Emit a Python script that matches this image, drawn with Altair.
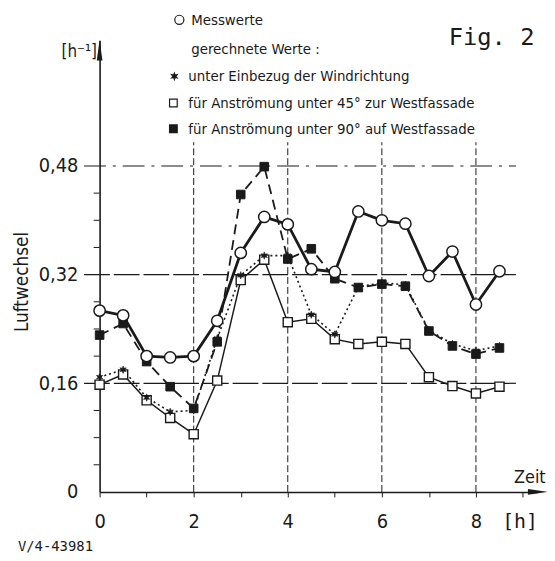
import math
import altair as alt
import pandas as pd

# ---------------- data ----------------
hours = [0, 0.5, 1, 1.5, 2, 2.5, 3, 3.5, 4, 4.5, 5, 5.5, 6, 6.5, 7, 7.5, 8, 8.5]
messwerte = [0.267, 0.260, 0.200, 0.198, 0.200, 0.252, 0.352, 0.405, 0.394,
             0.328, 0.324, 0.413, 0.400, 0.395, 0.318, 0.354, 0.276, 0.325]
windrichtung = [0.169, 0.180, 0.139, 0.118, 0.120, 0.226, 0.319, 0.348, 0.348,
                0.261, 0.232, 0.302, 0.308, 0.305, 0.238, 0.218, 0.208, 0.215]
west45 = [0.158, 0.173, 0.135, 0.109, 0.085, 0.164, 0.312, 0.342, 0.250,
          0.255, 0.225, 0.218, 0.221, 0.218, 0.169, 0.156, 0.145, 0.155]
west90 = [0.231, 0.248, 0.192, 0.155, 0.123, 0.221, 0.438, 0.479, 0.343,
          0.358, 0.314, 0.301, 0.306, 0.303, 0.237, 0.215, 0.203, 0.212]

x_tick_values = [0, 0.5, 1, 1.5, 2, 2.5, 3, 3.5, 4, 4.5, 5, 5.5, 6, 6.5, 7, 7.5, 8, 8.5, 9]
x_grid = [2, 4, 6, 8]
y_tick_values = [0, 0.16, 0.32, 0.48]
y_minor = [0.04, 0.08, 0.12, 0.20, 0.24, 0.28, 0.36, 0.40, 0.44]
y_grid_dashed = [0.16, 0.32]
y_grid_dashdot = [0.48]

legend_lines = [
    "Messwerte",
    "gerechnete Werte :",
    "unter Einbezug der Windrichtung",
    "für Anströmung unter 45° zur Westfassade",
    "für Anströmung unter 90° auf Westfassade",
]

# ---------------- styling ----------------
FONT = "DejaVu Sans Condensed"
INK = "#1a1a1a"
W, H = 441.75, 456
XMAX, YMAX = 9.3, 0.665

def star_path(n=6, r_in=0.45):
    pts = []
    for i in range(2 * n):
        r = 1.0 if i % 2 == 0 else r_in
        a = math.pi * i / n - math.pi / 2
        pts.append(f"{r*math.cos(a):.3f},{r*math.sin(a):.3f}")
    return "M" + "L".join(pts) + "Z"

STAR = star_path()

xs = alt.Scale(domain=[0, XMAX], nice=False, zero=False)
ys = alt.Scale(domain=[0, YMAX], nice=False, zero=False)

x_axis = alt.Axis(values=x_tick_values, title=None, grid=False,
                  labelExpr="datum.value % 2 == 0 ? format(datum.value, 'd') : ''",
                  labelOverlap=False, labelFlush=False, tickSize=5, tickWidth=1,
                  tickColor=INK, domainColor=INK, domainWidth=1.6,
                  labelFont=FONT, labelFontSize=20, labelColor=INK, labelPadding=15)
y_axis = alt.Axis(values=y_tick_values, title=None, grid=False,
                  labelExpr="datum.value == 0 ? '0' : replace(format(datum.value, '.2f'), '.', ',')",
                  labelOverlap=False, labelFlush=False, tickSize=0,
                  domainColor=INK, domainWidth=1.6,
                  labelFont=FONT, labelFontSize=20, labelColor=INK, labelPadding=22)

def series_df(vals):
    return pd.DataFrame({"t": hours, "v": vals})

# axes carrier
base_df = pd.DataFrame({"t": [0, XMAX], "v": [0, YMAX]})
axes = alt.Chart(base_df).mark_point(opacity=0).encode(
    x=alt.X("t:Q", scale=xs, axis=x_axis),
    y=alt.Y("v:Q", scale=ys, axis=y_axis),
)

# grid lines
hg1 = alt.Chart(pd.DataFrame({"y": y_grid_dashed, "x1": -0.33, "x2": 8.85})).mark_rule(
    color=INK, strokeWidth=1.2, strokeDash=[26, 4]).encode(
    x=alt.X("x1:Q", scale=xs), x2="x2:Q", y=alt.Y("y:Q", scale=ys))
hg2 = alt.Chart(pd.DataFrame({"y": y_grid_dashdot, "x1": -0.33, "x2": 8.85})).mark_rule(
    color=INK, strokeWidth=1.2, strokeDash=[22, 7, 3, 7]).encode(
    x=alt.X("x1:Q", scale=xs), x2="x2:Q", y=alt.Y("y:Q", scale=ys))
vg = alt.Chart(pd.DataFrame({"x": x_grid, "y1": 0, "y2": 0.515})).mark_rule(
    color=INK, strokeWidth=1, strokeDash=[7, 3]).encode(
    x=alt.X("x:Q", scale=xs), y=alt.Y("y1:Q", scale=ys), y2="y2:Q")
minor = alt.Chart(pd.DataFrame({"y": y_minor})).mark_rule(color=INK, strokeWidth=1).encode(
    y=alt.Y("y:Q", scale=ys), x=alt.value(-6), x2=alt.value(0))

# arrows
arrow_up = "M0,-1L0.28,1L-0.28,1Z"
arrow_right = "M1,0L-1,0.28L-1,-0.28Z"
arr_y = alt.Chart(pd.DataFrame({"k": [0]})).mark_point(
    shape=arrow_up, filled=True, color=INK, size=420, opacity=1).encode(
    x=alt.value(0), y=alt.value(10))
arr_x = alt.Chart(pd.DataFrame({"k": [0]})).mark_point(
    shape=arrow_right, filled=True, color=INK, size=420, opacity=1).encode(
    x=alt.value(W + 1), y=alt.value(H))

def line_layer(vals, width, dash=None):
    kw = dict(color=INK, strokeWidth=width)
    if dash:
        kw["strokeDash"] = dash
    return alt.Chart(series_df(vals)).mark_line(**kw).encode(
        x=alt.X("t:Q", scale=xs), y=alt.Y("v:Q", scale=ys))

def point_layer(vals, shape, size, fill, sw=1.4):
    return alt.Chart(series_df(vals)).mark_point(
        shape=shape, size=size, filled=True, fill=fill, stroke=INK,
        strokeWidth=sw, opacity=1).encode(
        x=alt.X("t:Q", scale=xs), y=alt.Y("v:Q", scale=ys))

l90 = line_layer(west90, 1.8, [10, 6])
l45 = line_layer(west45, 1.5)
lw = line_layer(windrichtung, 1.6, [2, 3])
lm = line_layer(messwerte, 2.8)
p90 = point_layer(west90, "square", 75, INK, 1)
p45 = point_layer(west45, "square", 85, "white", 1.4)
pw = point_layer(windrichtung, STAR, 55, INK, 0.6)
pm = point_layer(messwerte, "circle", 130, "white", 1.5)

# legend (drawn as annotations)
leg_sym = [
    ("circle", 80.5, -20.7, "white", 85),
    (STAR, 75.5, 36.3, INK, 40),
    ("square", 74.5, 63.3, "white", 60),
    ("square", 74.5, 89.3, INK, 60),
]
leg_layers = []
for shp, px, py, fill, sz in leg_sym:
    leg_layers.append(alt.Chart(pd.DataFrame({"k": [0]})).mark_point(
        shape=shp, filled=True, fill=fill, stroke=INK, strokeWidth=1.2,
        size=sz, opacity=1).encode(x=alt.value(px), y=alt.value(py)))
leg_pos = [(92.5, -20.7), (92.5, 8.3), (89.5, 36.3), (89.5, 63.3), (89.5, 89.3)]
for txt, (px, py) in zip(legend_lines, leg_pos):
    leg_layers.append(alt.Chart(pd.DataFrame({"k": [0]})).mark_text(
        text=txt, align="left", baseline="middle", font=FONT, fontSize=15,
        color=INK).encode(x=alt.value(px), y=alt.value(py)))

def label(txt, px, py, size, font=FONT, align="left", angle=0):
    return alt.Chart(pd.DataFrame({"k": [0]})).mark_text(
        text=txt, align=align, baseline="middle", font=font, fontSize=size,
        color=INK, angle=angle).encode(x=alt.value(px), y=alt.value(py))

texts = [
    label("Fig. 2", 352.5, -2.7, 24, font="DejaVu Sans Mono"),
    label("[h\u207b\u00b9]", -38.5, 12.3, 17),
    label("Luftwechsel", -78, 244, 19, align="center", angle=270),
    label("Zeit", 418.5, 442, 18),
    label("[h]", 406.5, 486, 20, font="DejaVu Sans Mono"),
    label("V/4-43981", -82.5, 512, 14, font="DejaVu Sans Mono"),
]

chart = alt.layer(
    axes, hg1, hg2, vg, minor, arr_y, arr_x,
    l90, l45, lw, lm, p90, p45, pw, pm,
    *leg_layers, *texts,
).properties(
    width=W, height=H,
    autosize=alt.AutoSizeParams(type="none"),
    padding={"left": 92.5, "top": 30, "right": 10, "bottom": 60},
    background="white",
).configure_view(stroke=None)

chart.save("out.html", embed_options={"renderer": "svg", "actions": False})
